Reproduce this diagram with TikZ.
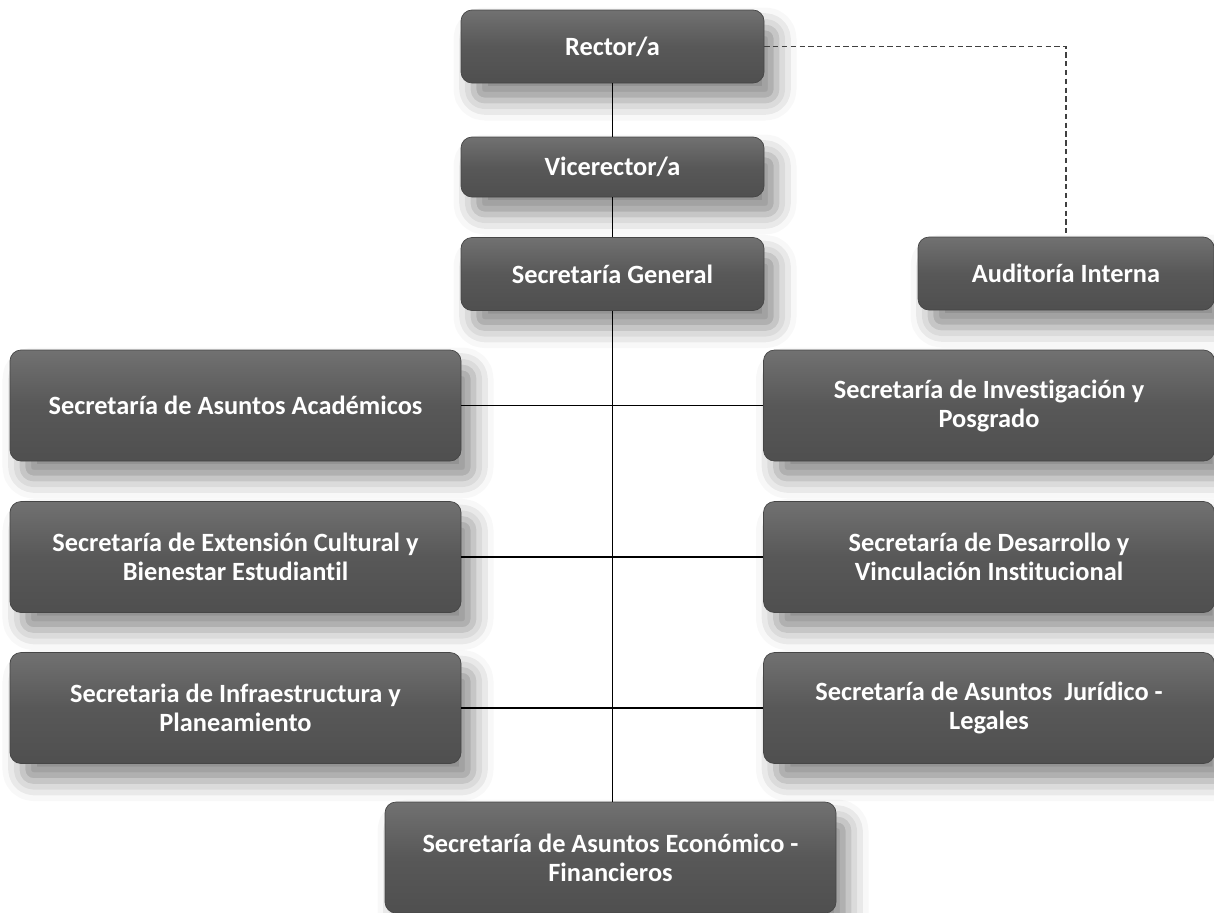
\documentclass[tikz,border=0pt]{standalone}
\usepackage{fontspec}
\setmainfont{Carlito}[Ligatures=NoCommon]
\usetikzlibrary{shadows.blur}
\definecolor{boxgray}{RGB}{88,88,88}
\begin{document}
\begin{tikzpicture}[
  box/.style={rounded corners=0.22cm, top color=boxgray!85!white, bottom color=boxgray!90!black,
    middle color=boxgray, draw=boxgray!80!black, line width=0.4pt,
    text=white, font=\bfseries\fontsize{15}{16.5}\selectfont, align=center, inner sep=0pt,
    blur shadow={shadow xshift=0.25cm, shadow yshift=-0.35cm, shadow blur radius=0.4cm, shadow opacity=45}},
  small/.style={box, minimum width=6.06cm, minimum height=1.46cm},
  big/.style={box, minimum width=9.02cm, minimum height=2.22cm},
  link/.style={line width=0.9pt, black}
]
\useasboundingbox (0,0) rectangle (24.28,-18.24);
\node[small] (rector) at (12.25,-0.93) {Rector/a};
\node[small, minimum height=1.2cm] (vice) at (12.25,-3.34) {Vicerector/a};
\node[small] (secgen) at (12.25,-5.48) {Secretaría General};
\node[small, minimum width=5.92cm] (audit) at (21.32,-5.47) {Auditoría Interna};
\node[big] (acad) at (4.71,-8.11) {Secretaría de Asuntos Académicos};
\node[big] (invest) at (19.78,-8.11) {Secretaría de Investigación y\\Posgrado};
\node[big] (exten) at (4.71,-11.14) {Secretaría de Extensión Cultural y\\Bienestar Estudiantil};
\node[big] (desarr) at (19.78,-11.14) {Secretaría de Desarrollo y\\Vinculación Institucional};
\node[big] (infra) at (4.71,-14.16) {Secretaria de Infraestructura y\\Planeamiento};
\node[big] (jurid) at (19.78,-14.16) {Secretaría de Asuntos~ Jurídico -\\Legales};
\node[big] (econ) at (12.21,-17.15) {Secretaría de Asuntos Económico -\\Financieros};
% lineas
\draw[link] (rector.south) -- (vice.north);
\draw[link] (vice.south) -- (secgen.north);
\draw[link] (secgen.south) -- (secgen.south |- econ.north);
\draw[link] (acad.east) -- (invest.west);
\draw[link] (exten.east) -- (desarr.west);
\draw[link] (infra.east) -- (jurid.west);
\draw[densely dashed, line width=0.8pt, black!75] (rector.east) -| (audit.north);
\end{tikzpicture}
\end{document}
